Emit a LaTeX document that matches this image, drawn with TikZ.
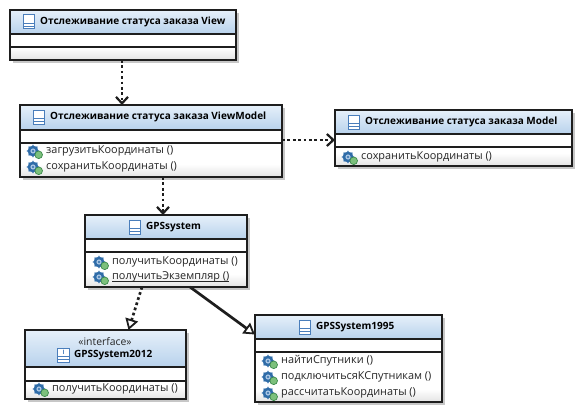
\documentclass[tikz,border=0pt]{standalone}
\usepackage{fontspec}
\setmainfont{Open Sans}
\usetikzlibrary{arrows.meta,fit,calc}
\definecolor{edge}{HTML}{1E1E1E}
\definecolor{headtop}{HTML}{E6F0FA}
\definecolor{headbot}{HTML}{B8D2EC}
\definecolor{iconblue}{HTML}{4A7EBB}
\definecolor{gearblue}{HTML}{2F6CA8}
\definecolor{gearlight}{HTML}{A9C6E4}
\definecolor{greenfill}{HTML}{7CC07C}
\definecolor{greenedge}{HTML}{3C8A4C}
\newcounter{memb}
\newlength{\ulw}
\newcommand{\lowline}[1]{\settowidth{\ulw}{#1}\rlap{\rule[-1.6pt]{\ulw}{.7pt}}#1}
\tikzset{
  umlframe/.style={draw=edge,line width=2pt,inner sep=0pt,outer sep=0pt},
  titletext/.style={anchor=west,inner sep=0pt,font=\fontsize{10}{11}\selectfont\bfseries,text=black},
  membertext/.style={anchor=west,inner sep=0pt,font=\fontsize{10.9}{11}\selectfont,text=black!85},
  stereotext/.style={anchor=center,inner sep=0pt,font=\fontsize{10.4}{11}\selectfont,text=black!85},
  depend/.style={draw=edge,line width=2.7pt,dash pattern=on 2.7pt off 2.7pt,-{Straight Barb[length=6.5pt,width=12pt,line width=2.2pt]}},
  realize/.style={draw=edge,line width=2.7pt,dash pattern=on 2.7pt off 2.7pt,-{Triangle[open,length=11pt,width=13pt,line width=1.8pt,fill=white]}},
  general/.style={draw=edge,line width=2.7pt,-{Triangle[open,length=11pt,width=13pt,line width=1.8pt,fill=white]}},
  classicon/.pic={
    \draw[iconblue,line width=1pt,fill=white] (-5.5,-7) rectangle (5.5,7);
    \draw[iconblue,line width=1pt] (-5.5,1.5) -- (5.5,1.5) (-5.5,4.2) -- (5.5,4.2);
  },
  ifaceicon/.pic={
    \draw[iconblue,line width=1pt,fill=white] (-6,-7) rectangle (6,7);
    \draw[iconblue,line width=1pt] (-6,1) -- (6,1) (-6,4) -- (6,4);
    \node[inner sep=0pt,font=\fontsize{6}{6}\selectfont\bfseries,text=iconblue] at (0,-3) {I};
  },
  gearicon/.pic={
    \fill[gearblue] (0,0) circle (5.2);
    \foreach \a in {0,45,...,315}{
      \fill[gearblue] (\a:4.2) circle (1.9);
      \fill[gearlight] (\a:6.1) circle (.6);
    }
    \fill[gearlight] (0,0) circle (2.6);
    \fill[gearblue] (0,0) circle (1.2);
    \draw[greenedge,line width=.7pt,fill=greenfill] (5.7,3.8) circle (3.8);
  }
}
% name, x1, y1, x2, header bottom, divider, y2
\newcommand{\umlclass}[7]{
  \fill[black!22] (#2+3,#3+3) rectangle (#4+3,#7+3);
  \fill[white] (#2,#3) rectangle (#4,#7);
  \shade[top color=headtop,bottom color=headbot] (#2,#3) rectangle (#4,#5);
  \shade[top color=white,bottom color=black!11] (#2,#7-13) rectangle (#4,#7);
  \node[umlframe,fit={(#2,#3)(#4,#7)}] (#1) {};
  \draw[edge,line width=1.6pt] (#2,#5) -- (#4,#5);
  \draw[edge,line width=1.6pt] (#2,#6) -- (#4,#6);
}
\newcommand{\umlmember}[3]{
  \stepcounter{memb}
  \pic at (#1,#2) {gearicon};
  \node[membertext] (memb\arabic{memb}) at (#1+13,#2) {#3};
}
\begin{document}
\begin{tikzpicture}[x=1pt,y=-1pt]
\useasboundingbox (0,0) rectangle (585,417);

\umlclass{view}{10}{10}{236}{34}{47}{60}
\umlclass{vm}{20}{105}{282}{130}{143}{177}
\umlclass{model}{335}{110}{572}{134}{147}{166}
\umlclass{gps}{85}{215}{247}{239}{252}{287}
\umlclass{gpsb}{25}{330}{186}{367}{381}{399}
\umlclass{gpsa}{255}{315}{442}{339}{352}{402}

\pic at (29,22) {classicon};
\node[titletext] (viewtitle) at (40,22) {Отслеживание статуса заказа View};

\pic at (39,117) {classicon};
\node[titletext] (vmtitle) at (50,117) {Отслеживание статуса заказа ViewModel};
\umlmember{33}{151}{загрузитьКоординаты ()}
\umlmember{33}{167}{сохранитьКоординаты ()}

\pic at (354,122) {classicon};
\node[titletext] (modeltitle) at (365,122) {Отслеживание статуса заказа Model};
\umlmember{348}{157}{сохранитьКоординаты ()}

\pic at (135,227) {classicon};
\node[titletext] (gpstitle) at (146,227) {GPSsystem};
\umlmember{99}{262}{получитьКоординаты ()}
\umlmember{99}{277}{\lowline{получитьЭкземпляр ()}}

\node[stereotext] (ster) at (105,342) {«interface»};
\pic at (63.5,355) {ifaceicon};
\node[titletext] (gpsbtitle) at (74,355) {GPSSystem2012};
\umlmember{39}{389}{получитьКоординаты ()}

\pic at (305,327) {classicon};
\node[titletext] (gpsatitle) at (316,327) {GPSSystem1995};
\umlmember{268}{361}{найтиСпутники ()}
\umlmember{268}{377}{подключитьсяКСпутникам ()}
\umlmember{268}{393}{рассчитатьКоординаты ()}

\draw[depend] ([xshift=-1pt]view.south) -- ([xshift=-29pt]vm.north);
\draw[depend] ([yshift=1pt]vm.east) -- ([yshift=-2pt]model.west);
\draw[depend] ([xshift=-3pt]vm.south -| gps.north) -- ([xshift=-3pt]gps.north);
\draw[realize] ([xshift=-24pt]gps.south) -- ([xshift=23pt]gpsb.north);
\draw[general] ([xshift=24pt]gps.south) -- ([yshift=24pt]gpsa.west);
\end{tikzpicture}
\end{document}
